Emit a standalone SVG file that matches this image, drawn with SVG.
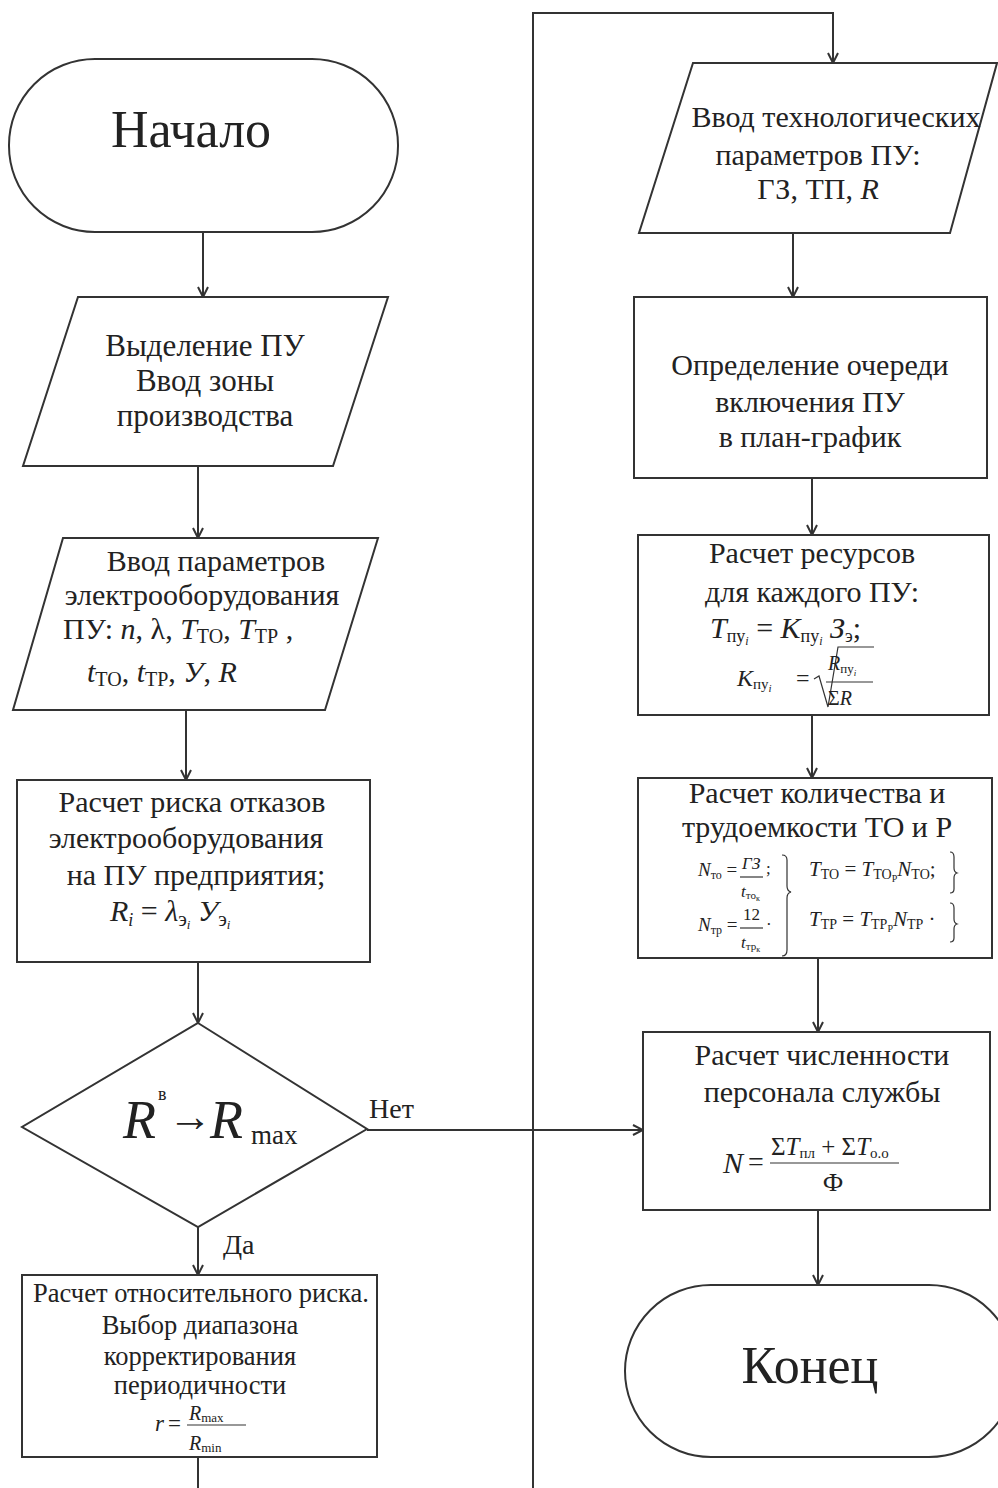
<svg xmlns="http://www.w3.org/2000/svg" width="998" height="1488" viewBox="0 0 998 1488">
<defs>
<marker id="arr" viewBox="0 0 12 12" refX="11" refY="6" markerWidth="12" markerHeight="12" markerUnits="userSpaceOnUse" orient="auto">
<path d="M1,1 L11,6 L1,11" fill="none" stroke="#333" stroke-width="2"/>
</marker>
<style>
.sh{fill:#fff;stroke:#333;stroke-width:2}
.c{fill:none;stroke:#333;stroke-width:2}
.t{font-family:"Liberation Serif","Times New Roman",serif;fill:#222;text-anchor:middle}
.f{font-family:"Liberation Serif","Times New Roman",serif;fill:#222}
.i{font-style:italic}
.ln{fill:none;stroke:#333;stroke-width:1.2}
</style>
</defs>
<rect width="998" height="1488" fill="#fff"/>
<g id="connectors">
<path class="c" d="M203,232 V297" marker-end="url(#arr)"/>
<path class="c" d="M198,466 V538" marker-end="url(#arr)"/>
<path class="c" d="M186,710 V780" marker-end="url(#arr)"/>
<path class="c" d="M198,962 V1023" marker-end="url(#arr)"/>
<path class="c" d="M198,1227 V1275" marker-end="url(#arr)"/>
<path class="c" d="M367,1130 H643" marker-end="url(#arr)"/>
<path class="c" d="M198,1457 V1500 H533 V13 H833 V63" marker-end="url(#arr)"/>
<path class="c" d="M793,233 V297" marker-end="url(#arr)"/>
<path class="c" d="M812,478 V535" marker-end="url(#arr)"/>
<path class="c" d="M812,715 V778" marker-end="url(#arr)"/>
<path class="c" d="M818,958 V1032" marker-end="url(#arr)"/>
<path class="c" d="M818,1210 V1285" marker-end="url(#arr)"/>
<text class="f" x="369" y="1118" font-size="28">Нет</text>
<text class="f" x="223" y="1254" font-size="28">Да</text>
</g>
<g id="start">
<rect class="sh" x="9" y="59" width="389" height="173" rx="86" ry="86"/>
<text class="t" x="191" y="147" font-size="52">Начало</text>
</g>
<g id="input_zone">
<polygon class="sh" points="78,297 388,297 333,466 23,466"/>
<text class="t" x="205" y="356" font-size="31">Выделение ПУ</text>
<text class="t" x="205" y="391" font-size="31">Ввод зоны</text>
<text class="t" x="205" y="426" font-size="31">производства</text>
</g>
<g id="input_params">
<polygon class="sh" points="63,538 378,538 325,710 13,710"/>
<text class="t" x="216" y="571" font-size="30">Ввод параметров</text>
<text class="t" x="202" y="605" font-size="30">электрооборудования</text>
<text class="f" x="63" y="639" font-size="30">ПУ: <tspan class="i">n</tspan>, λ, <tspan class="i">T</tspan><tspan font-size="20" dy="4">TO</tspan><tspan dy="-4">, </tspan><tspan class="i">T</tspan><tspan font-size="20" dy="4">TP</tspan><tspan dy="-4"> ,</tspan></text>
<text class="f" x="87" y="682" font-size="30"><tspan class="i">t</tspan><tspan font-size="20" dy="4">TO</tspan><tspan dy="-4">, </tspan><tspan class="i">t</tspan><tspan font-size="20" dy="4">TP</tspan><tspan dy="-4">, </tspan><tspan class="i">У</tspan>, <tspan class="i">R</tspan></text>
</g>
<g id="risk">
<rect class="sh" x="17" y="780" width="353" height="182"/>
<text class="t" x="192" y="812" font-size="30">Расчет риска отказов</text>
<text class="t" x="186" y="848" font-size="30">электрооборудования</text>
<text class="t" x="196" y="885" font-size="30">на ПУ предприятия;</text>
<text class="f" x="110" y="921" font-size="30"><tspan class="i">R</tspan><tspan class="i" font-size="18" dy="5">i</tspan><tspan dy="-5"> = </tspan><tspan class="i">λ</tspan><tspan font-size="20" dy="5">э</tspan><tspan class="i" font-size="13" dy="3">i</tspan><tspan dy="-8"> </tspan><tspan class="i">У</tspan><tspan font-size="20" dy="5">э</tspan><tspan class="i" font-size="13" dy="3">i</tspan></text>
</g>
<g id="decision">
<polygon class="sh" points="198,1023 367,1129 198,1227 22,1127"/>
<text class="f i" x="123" y="1138" font-size="54">R</text>
<text class="f" x="158" y="1100" font-size="18">в</text>
<text class="f" x="168" y="1131" font-size="44">→</text>
<text class="f i" x="210" y="1138" font-size="54">R</text>
<text class="f" x="251" y="1144" font-size="27">max</text>
</g>
<g id="relative_risk">
<rect class="sh" x="22" y="1275" width="355" height="182"/>
<text class="t" x="201" y="1302" font-size="26.5">Расчет относительного риска.</text>
<text class="t" x="200" y="1334" font-size="26.5">Выбор диапазона</text>
<text class="t" x="200" y="1365" font-size="26.5">корректирования</text>
<text class="t" x="200" y="1394" font-size="26.5">периодичности</text>
<text class="f i" x="155" y="1431" font-size="23">r</text>
<text class="f" x="168" y="1431" font-size="23">=</text>
<text class="f" x="189" y="1420" font-size="20"><tspan class="i">R</tspan><tspan font-size="13" dy="2">max</tspan></text>
<path class="ln" d="M187,1425 H246"/>
<text class="f" x="189" y="1450" font-size="20"><tspan class="i">R</tspan><tspan font-size="13" dy="2">min</tspan></text>
</g>
<g id="input_tech">
<polygon class="sh" points="693,63 997,63 950,233 639,233"/>
<text class="t" x="836" y="127" font-size="30">Ввод технологических</text>
<text class="t" x="818" y="165" font-size="30">параметров ПУ:</text>
<text class="t" x="818" y="199" font-size="30">ГЗ, ТП, <tspan class="i">R</tspan></text>
</g>
<g id="queue">
<rect class="sh" x="634" y="297" width="353" height="181"/>
<text class="t" x="810" y="375" font-size="30">Определение очереди</text>
<text class="t" x="810" y="412" font-size="30">включения ПУ</text>
<text class="t" x="810" y="447" font-size="30">в план-график</text>
</g>
<g id="resources">
<rect class="sh" x="638" y="535" width="351" height="180"/>
<text class="t" x="812" y="563" font-size="30">Расчет ресурсов</text>
<text class="t" x="812" y="602" font-size="30">для каждого ПУ:</text>
<text class="f" x="710" y="638" font-size="30"><tspan class="i">T</tspan><tspan font-size="18" dy="4">пу</tspan><tspan class="i" font-size="12" dy="3">i</tspan><tspan dy="-7"> = </tspan><tspan class="i">K</tspan><tspan font-size="18" dy="4">пу</tspan><tspan class="i" font-size="12" dy="3">i</tspan><tspan dy="-7"> </tspan><tspan class="i">З</tspan><tspan font-size="18" dy="4">э</tspan><tspan dy="-4">;</tspan></text>
<text class="f" x="737" y="686" font-size="24"><tspan class="i">K</tspan><tspan font-size="15" dy="3">пу</tspan><tspan class="i" font-size="11" dy="3">i</tspan></text>
<text class="f" x="796" y="686" font-size="24">=</text>
<path class="ln" d="M814,679 L819,676 L828,707 L838,647 H874"/>
<text class="f" x="828" y="670" font-size="20"><tspan class="i">R</tspan><tspan font-size="13" dy="3">пу</tspan><tspan class="i" font-size="9" dy="3">i</tspan></text>
<path class="ln" d="M826,682 H873"/>
<text class="f" x="828" y="705" font-size="20">Σ<tspan class="i">R</tspan></text>
</g>
<g id="quantity">
<rect class="sh" x="638" y="778" width="354" height="180"/>
<text class="t" x="817" y="803" font-size="30">Расчет количества и</text>
<text class="t" x="817" y="837" font-size="30">трудоемкости ТО и Р</text>
<text class="f" x="698" y="876" font-size="19"><tspan class="i">N</tspan><tspan font-size="12" dy="3">то</tspan><tspan dy="-3"> =</tspan></text>
<text class="f i" x="742" y="869" font-size="17">ГЗ</text>
<path class="ln" d="M740,877 H763"/>
<text class="f" x="741" y="897" font-size="17"><tspan class="i">t</tspan><tspan font-size="11" dy="2">то</tspan><tspan font-size="8" dy="2">к</tspan></text>
<text class="f" x="766" y="874" font-size="17">;</text>
<text class="f" x="698" y="931" font-size="19"><tspan class="i">N</tspan><tspan font-size="12" dy="3">тр</tspan><tspan dy="-3"> =</tspan></text>
<text class="f" x="743" y="920" font-size="17">12</text>
<path class="ln" d="M740,928 H763"/>
<text class="f" x="741" y="948" font-size="17"><tspan class="i">t</tspan><tspan font-size="11" dy="2">тр</tspan><tspan font-size="8" dy="2">к</tspan></text>
<text class="f" x="766" y="930" font-size="17">·</text>
<path class="ln" d="M782,855 Q787,855 787,860 V886 Q787,891 791,892 Q787,893 787,898 V950 Q787,956 782,956"/>
<text class="f" x="809" y="876" font-size="21"><tspan class="i">T</tspan><tspan font-size="14" dy="3">ТО</tspan><tspan dy="-3"> = </tspan><tspan class="i">T</tspan><tspan font-size="14" dy="3">ТО</tspan><tspan font-size="10" dy="3">Р</tspan><tspan class="i" dy="-6">N</tspan><tspan font-size="14" dy="3">ТО</tspan><tspan dy="-3">;</tspan></text>
<text class="f" x="809" y="926" font-size="21"><tspan class="i">T</tspan><tspan font-size="14" dy="3">ТР</tspan><tspan dy="-3"> = </tspan><tspan class="i">T</tspan><tspan font-size="14" dy="3">ТР</tspan><tspan font-size="10" dy="3">Р</tspan><tspan class="i" dy="-6">N</tspan><tspan font-size="14" dy="3">ТР</tspan><tspan dy="-3"> ·</tspan></text>
<path class="ln" d="M950,852 Q954,852 954,857 V868 Q954,872 957,873 Q954,874 954,878 V889 Q954,893 950,893"/>
<path class="ln" d="M950,903 Q954,903 954,908 V919 Q954,923 957,924 Q954,925 954,929 V938 Q954,942 950,942"/>
</g>
<g id="personnel">
<rect class="sh" x="643" y="1032" width="347" height="178"/>
<text class="t" x="822" y="1065" font-size="30">Расчет численности</text>
<text class="t" x="822" y="1102" font-size="30">персонала службы</text>
<text class="f i" x="723" y="1173" font-size="30">N</text>
<text class="f" x="748" y="1171" font-size="28">=</text>
<text class="f" x="771" y="1155" font-size="25">Σ<tspan class="i">T</tspan><tspan font-size="15" dy="3">пл</tspan><tspan dy="-3"> + Σ</tspan><tspan class="i">T</tspan><tspan font-size="15" dy="3">о.о</tspan></text>
<path class="ln" d="M770,1163 H899"/>
<text class="t" x="833" y="1191" font-size="26">Ф</text>
</g>
<g id="end">
<rect class="sh" x="625" y="1285" width="390" height="172" rx="86" ry="86"/>
<text class="t" x="810" y="1383" font-size="52">Конец</text>
</g>
</svg>
